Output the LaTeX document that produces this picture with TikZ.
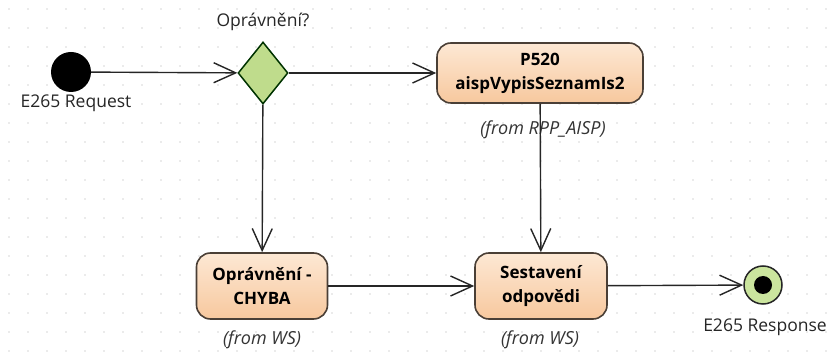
\documentclass[tikz,border=0pt]{standalone}
\usepackage{fontspec}
\setmainfont{Open Sans}
\usetikzlibrary{shapes.geometric,arrows.meta}
\definecolor{boxfillT}{HTML}{FDE8D4}
\definecolor{boxfillB}{HTML}{F7C89E}
\definecolor{boxline}{HTML}{4A3F36}
\definecolor{dia}{HTML}{BFDC8C}
\definecolor{endfill}{HTML}{CBE59E}
\definecolor{griddot}{HTML}{D8D8D8}
\tikzset{
  act/.style={draw=boxline, line width=1.6pt, rounded corners=14pt, top color=boxfillT, bottom color=boxfillB,
    font=\bfseries\fontsize{17}{24}\selectfont, align=center, inner sep=0pt},
  lbl/.style={font=\fontsize{17.5}{20}\selectfont, text=black!85},
  from/.style={font=\itshape\fontsize{18}{20}\selectfont, text=black!80},
  flow/.style={draw=black!85, line width=1.4pt, -{Straight Barb[length=22pt,width=20pt,line width=1.4pt]}},
}
\begin{document}
\begin{tikzpicture}[x=1pt,y=-1pt]
\useasboundingbox (0,0) rectangle (830,352);
\fill[white] (0,0) rectangle (830,352);
% grid dots
\foreach \i in {0,...,43} {\foreach \j in {0,...,18} {
  \fill[griddot] (9+19*\i,9+19*\j) circle (0.9);
}}
% nodes
\node[circle, fill=black, minimum size=40pt, inner sep=0pt] (start) at (71,72) {};
\node[lbl] (startl) at (76,103) {E265 Request};
\node[diamond, draw=black!80!green, line width=1.5pt, fill=dia, minimum width=50pt, minimum height=62pt, inner sep=0pt, aspect=0.8] (dec) at (263,73) {};
\node[lbl] (decl) at (263,22) {Oprávnění?};
\node[act, minimum width=206pt, minimum height=60pt] (p520) at (540,73) {P520\\aispVypisSeznamIs2};
\node[from] (p520f) at (543,130) {(from RPP\_AISP)};
\node[act, minimum width=131pt, minimum height=66pt] (chyba) at (262,286) {Oprávnění -\\CHYBA};
\node[from] (chybaf) at (262,340) {(from WS)};
\node[act, minimum width=132pt, minimum height=66pt] (sest) at (541,286) {Sestavení\\odpovědi};
\node[from] (sestf) at (540,340) {(from WS)};
\node[circle, draw=black!85, line width=1.5pt, fill=endfill, minimum size=38pt, inner sep=0pt] (end) at (763,285) {};
\fill[black] (end.center) circle (9);
\node[lbl] (endl) at (765,327) {E265 Response};
% flows
\draw[flow] (start) -- (dec);
\draw[flow] (dec) -- (p520);
\draw[flow] (dec) -- (chyba);
\draw[flow] (p520) -- (sest);
\draw[flow] (chyba) -- (sest);
\draw[flow] (sest) -- (end);
\end{tikzpicture}
\end{document}
